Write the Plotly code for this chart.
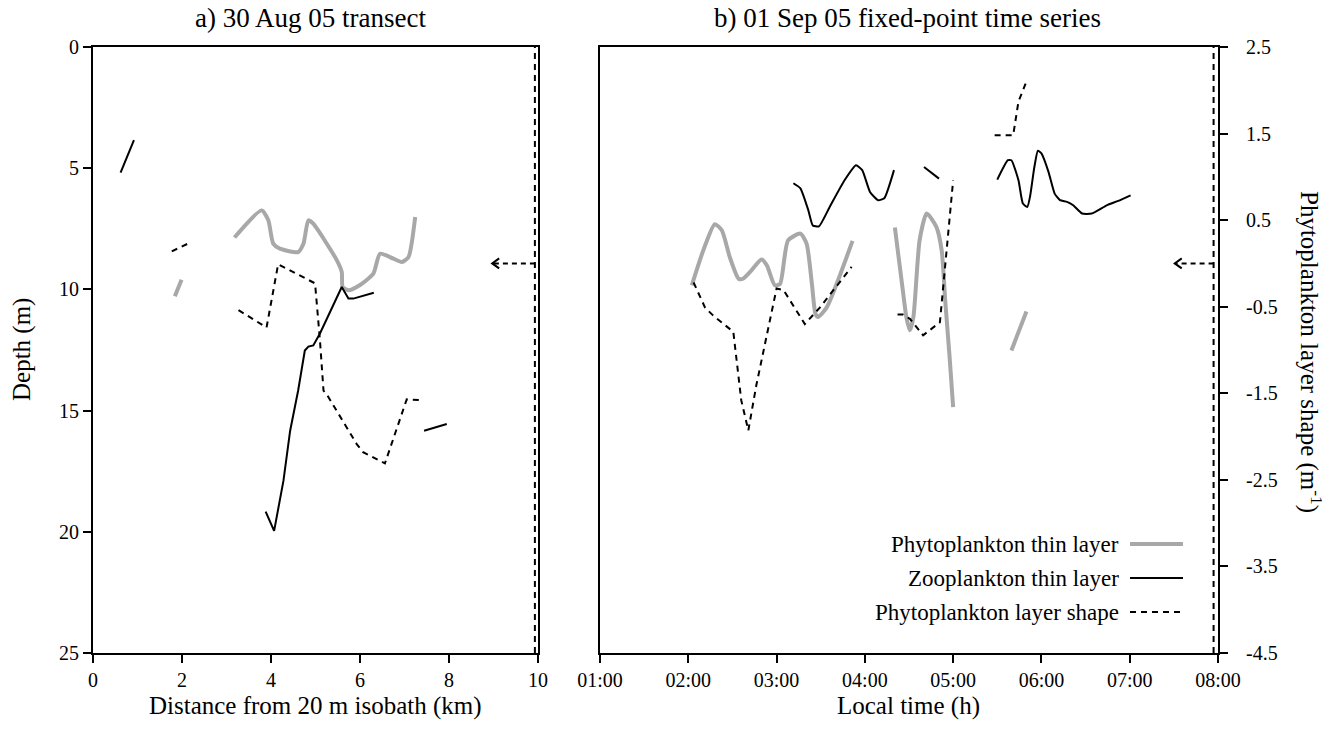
import plotly.graph_objects as go

FONT = "Liberation Serif"
W, H = 1332, 746

# ---- a) 30 Aug 05 transect: distance from 20 m isobath (km) vs depth (m)
a_phyto_km = [1.84, 1.99, None,
              3.18, 3.79, 3.94, 4.05, 4.20, 4.61, 4.73, 4.84, 4.95, 5.48, 5.59, 5.61,
              5.74, 5.99, 6.30, 6.45, 6.75, 6.94, 7.09, 7.24]
a_phyto_depth = [10.28, 9.60, None,
                 7.86, 6.74, 7.15, 8.11, 8.32, 8.46, 8.11, 7.15, 7.29, 8.80, 9.28, 9.90,
                 10.04, 9.83, 9.35, 8.53, 8.73, 8.87, 8.66, 7.01]

a_zoo_km = [0.62, 0.92, None,
            3.88, 4.07, 4.28, 4.43, 4.61, 4.76, 4.84, 4.95, 5.10, 5.59, 5.74, 5.85, 6.31, None,
            7.44, 7.95]
a_zoo_depth = [5.18, 3.84, None,
               19.17, 19.96, 17.89, 15.83, 14.17, 12.52, 12.36, 12.31, 11.82, 9.90, 10.38, 10.38, 10.14, None,
               15.83, 15.55]

# layer shape (m^-1), read on the shape scale
a_shape_km = [1.77, 2.18, None,
              3.27, 3.90, 4.16, 4.99, 5.10, 5.18, 5.25, 5.93, 6.07, 6.56, 7.05, 7.39]
a_shape_val = [0.14, 0.24, None,
               -0.54, -0.74, -0.01, -0.23, -0.89, -1.47, -1.51, -2.09, -2.18, -2.31, -1.57, -1.58]

# ---- b) 01 Sep 05 fixed-point time series: local time (decimal hours)
b_phyto_h = [2.04, 2.17, 2.30, 2.38, 2.47, 2.57, 2.62, 2.70, 2.83, 2.89, 2.98, 3.04, 3.13,
             3.27, 3.34, 3.40, 3.44, 3.47, 3.57, 3.86, None,
             4.34, 4.43, 4.47, 4.51, 4.55, 4.62, 4.70, 4.81, 4.87, 4.91, 4.96, 5.00, None,
             5.66, 5.83]
b_phyto_depth = [9.83, 8.39, 7.31, 7.56, 8.67, 9.56, 9.56, 9.28, 8.77, 9.01, 9.83, 9.77, 7.98,
                 7.70, 8.11, 9.77, 11.00, 11.14, 10.73, 8.00, None,
                 7.45, 10.04, 11.14, 11.69, 11.14, 7.98, 6.87, 7.42, 8.39, 10.45, 12.80, 14.86, None,
                 12.52, 10.91]

b_zoo_h = [3.19, 3.27, 3.36, 3.41, 3.48, 3.60, 3.77, 3.90, 3.97, 4.06, 4.15, 4.22, 4.33, None,
           4.67, 4.84, None,
           5.50, 5.62, 5.66, 5.74, 5.79, 5.84, 5.87, 5.92, 5.96, 6.00, 6.08, 6.15, 6.21, 6.29,
           6.36, 6.46, 6.57, 6.74, 6.87, 7.01]
b_zoo_depth = [5.62, 5.83, 6.74, 7.36, 7.40, 6.61, 5.50, 4.88, 5.08, 5.99, 6.32, 6.24, 5.08, None,
               4.95, 5.43, None,
               5.47, 4.67, 4.67, 5.50, 6.46, 6.60, 6.19, 4.95, 4.28, 4.39, 5.15, 6.05, 6.32, 6.39,
               6.53, 6.87, 6.87, 6.53, 6.35, 6.12]

b_shape_h = [2.06, 2.19, 2.28, 2.51, 2.60, 2.68, 2.77, 3.00, 3.08, 3.32, 3.49, 3.85, None,
             4.37, 4.43, 4.51, 4.66, 4.85, 5.00, None,
             5.47, 5.68, 5.74, 5.83]
b_shape_val = [-0.22, -0.51, -0.60, -0.79, -1.58, -1.93, -1.41, -0.29, -0.31, -0.70, -0.51, -0.04, None,
               -0.59, -0.59, -0.64, -0.83, -0.68, 0.96, None,
               1.48, 1.48, 1.87, 2.10]

# axis ticks
depth_ticks = [0, 5, 10, 15, 20, 25]
km_ticks = [0, 2, 4, 6, 8, 10]
hour_ticks = [1, 2, 3, 4, 5, 6, 7, 8]
hour_labels = ["01:00", "02:00", "03:00", "04:00", "05:00", "06:00", "07:00", "08:00"]
shape_ticks = [2.5, 1.5, 0.5, -0.5, -1.5, -2.5, -3.5, -4.5]
shape_labels = ["2.5", "1.5", "0.5", "-0.5", "-1.5", "-2.5", "-3.5", "-4.5"]

# zero-shape reference: vertical dashed line and arrow position
a_ref_km, a_arrow_km = 9.93, 8.97
b_ref_h, b_arrow_h = 7.95, 7.51
shape_zero = 0.0

legend_names = ["Phytoplankton thin layer", "Zooplankton thin layer", "Phytoplankton layer shape"]

GRAY = "#a8a8a8"
DASH = "6px,5px"

# pixel layout helpers (margins are zero, so paper == page pixels)
def px_x(p):
    return p / W

def px_y(p):
    return 1 - p / H

fig = go.Figure()

# panel a
fig.add_trace(go.Scatter(x=a_phyto_km, y=a_phyto_depth, xaxis="x", yaxis="y", mode="lines",
                         line=dict(color=GRAY, width=4, shape="spline", smoothing=0.6),
                         name=legend_names[0], showlegend=False))
fig.add_trace(go.Scatter(x=a_zoo_km, y=a_zoo_depth, xaxis="x", yaxis="y", mode="lines",
                         line=dict(color="black", width=2), name=legend_names[1], showlegend=False))
fig.add_trace(go.Scatter(x=a_shape_km, y=a_shape_val, xaxis="x", yaxis="y2", mode="lines",
                         line=dict(color="black", width=2, dash=DASH), name=legend_names[2],
                         showlegend=False))

# panel b
fig.add_trace(go.Scatter(x=b_phyto_h, y=b_phyto_depth, xaxis="x2", yaxis="y3", mode="lines",
                         line=dict(color=GRAY, width=4, shape="spline", smoothing=0.6),
                         name=legend_names[0], showlegend=False))
fig.add_trace(go.Scatter(x=b_zoo_h, y=b_zoo_depth, xaxis="x2", yaxis="y3", mode="lines",
                         line=dict(color="black", width=2, shape="spline", smoothing=0.5),
                         name=legend_names[1], showlegend=False))
fig.add_trace(go.Scatter(x=b_shape_h, y=b_shape_val, xaxis="x2", yaxis="y4", mode="lines",
                         line=dict(color="black", width=2, dash=DASH), name=legend_names[2],
                         showlegend=False))

tickfont = dict(family=FONT, size=20, color="black")
axis_common = dict(showline=True, linecolor="black", linewidth=2, ticks="outside",
                   ticklen=8, tickwidth=2, tickcolor="black", showgrid=False, zeroline=False,
                   tickfont=tickfont, automargin=False)

y_dom = [px_y(653), px_y(47)]

fig.update_layout(
    width=W, height=H,
    margin=dict(l=0, r=0, t=0, b=0, pad=0),
    paper_bgcolor="white", plot_bgcolor="white",
    font=dict(family=FONT, color="black"),
    xaxis=dict(domain=[px_x(93), px_x(538)], range=[0, 10], tickvals=km_ticks,
               anchor="y", mirror=True, **axis_common),
    yaxis=dict(domain=y_dom, range=[25, 0], tickvals=depth_ticks, anchor="x", mirror=True,
               **axis_common),
    yaxis2=dict(overlaying="y", range=[-4.5, 2.5], visible=False, anchor="x", automargin=False),
    xaxis2=dict(domain=[px_x(600), px_x(1218)], range=[1, 8], tickvals=hour_ticks,
                ticktext=hour_labels, anchor="y3", mirror=True, **axis_common),
    yaxis3=dict(domain=y_dom, range=[25, 0], anchor="x2", showline=True, linecolor="black",
                linewidth=2, showticklabels=False, ticks="", showgrid=False, zeroline=False,
                automargin=False),
    yaxis4=dict(overlaying="y3", anchor="x2", side="right", range=[-4.5, 2.5],
                tickvals=shape_ticks, ticktext=shape_labels, ticklabelstandoff=14,
                **axis_common),
)

shapes = []
annotations = []

# zero-shape reference lines and arrows
for xr, yr, x_ref, x_tip in [("x", "y2", a_ref_km, a_arrow_km), ("x2", "y4", b_ref_h, b_arrow_h)]:
    shapes.append(dict(type="line", xref=xr, yref="paper", x0=x_ref, x1=x_ref,
                       y0=y_dom[0], y1=y_dom[1], line=dict(color="black", width=2, dash=DASH)))
    shapes.append(dict(type="line", xref=xr, yref=yr, x0=x_ref, x1=x_tip,
                       y0=shape_zero, y1=shape_zero, line=dict(color="black", width=2, dash="5px,4px")))
    shapes.append(dict(type="path", xref=xr, yref=yr, xsizemode="pixel", ysizemode="pixel",
                       xanchor=x_tip, yanchor=shape_zero,
                       path="M 7,-5 L 0,0 L 7,5", line=dict(color="black", width=2)))


def label(text, x, y, font, angle=0, xanchor="center"):
    annotations.append(dict(text=text, xref="paper", yref="paper", x=px_x(x), y=px_y(y),
                            xanchor=xanchor, yanchor="middle", textangle=angle,
                            showarrow=False, font=font))


title_font = dict(family=FONT, size=27, color="black")
axis_title_font = dict(family=FONT, size=25, color="black")

# panel titles
label("a) 30 Aug 05 transect", 310, 18, title_font)
label("b) 01 Sep 05 fixed-point time series", 907, 18, title_font)
# axis titles
label("Distance from 20 m isobath (km)", 315, 706, axis_title_font)
label("Local time (h)", 908, 706, axis_title_font)
label("Depth (m)", 22, 350, axis_title_font, angle=-90)
label("Phytoplankton layer shape (m<sup>-1</sup>)", 1311, 352, axis_title_font, angle=90)

# legend, text left of line sample
legend_font = dict(family=FONT, size=23, color="black")
legend_styles = [dict(color=GRAY, width=4), dict(color="black", width=2),
                 dict(color="black", width=2, dash=DASH)]
for i, (name, style) in enumerate(zip(legend_names, legend_styles)):
    yy = 544 + 34 * i
    label(name, 1121, yy, legend_font, xanchor="right")
    shapes.append(dict(type="line", xref="paper", yref="paper", x0=px_x(1130), x1=px_x(1183),
                       y0=px_y(yy), y1=px_y(yy), line=style))

fig.update_layout(shapes=shapes, annotations=annotations)

fig.write_html("out.html")
